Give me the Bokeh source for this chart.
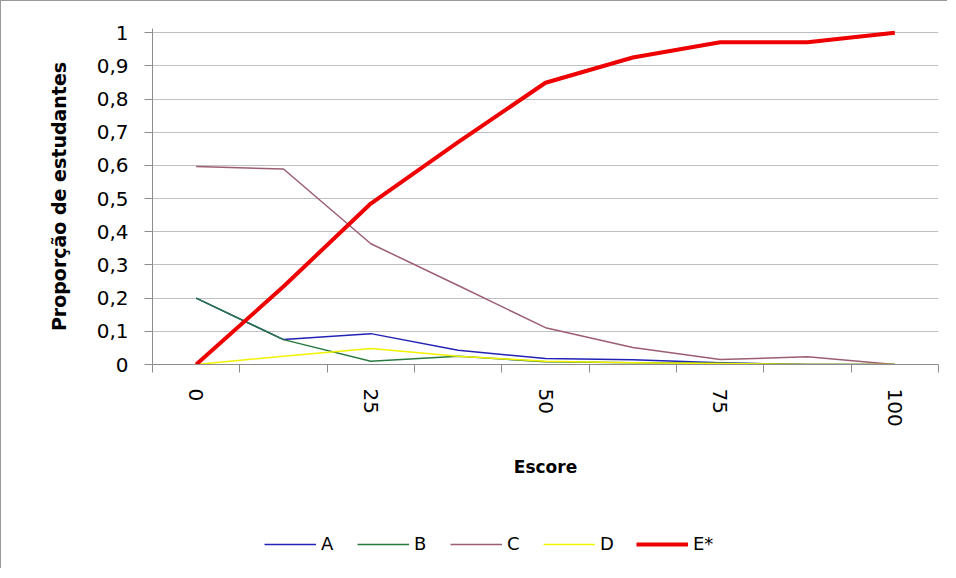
import math
from bokeh.plotting import figure
from bokeh.layouts import column
from bokeh.models import (Range1d, FixedTicker, CustomJSTickFormatter, Legend, LegendItem)
from bokeh.embed import file_html
from bokeh.resources import INLINE

# ---- data ----
escore = [0, 12.5, 25, 37.5, 50, 62.5, 75, 87.5, 100]
serie_a = [0.20, 0.075, 0.093, 0.043, 0.018, 0.014, 0.005, 0.0, 0.0]
serie_b = [0.20, 0.075, 0.010, 0.025, 0.008, 0.005, 0.004, 0.0, 0.0]
serie_c = [0.597, 0.589, 0.364, 0.238, 0.111, 0.051, 0.015, 0.023, 0.0]
serie_d = [0.0, 0.025, 0.048, 0.025, 0.010, 0.005, 0.003, 0.0, 0.0]
serie_e = [0.0, 0.235, 0.485, 0.670, 0.849, 0.925, 0.971, 0.971, 1.0]
x_tick_values = [0, 25, 50, 75, 100]
y_tick_values = [0, 0.1, 0.2, 0.3, 0.4, 0.5, 0.6, 0.7, 0.8, 0.9, 1.0]
series_names = ["A", "B", "C", "D", "E*"]
series_colors = ["#2222b4", "#2a7a40", "#9c5e72", "#f2f200", "#ee0000"]
series_widths = [1.5, 1.5, 1.5, 1.5, 4]
all_series = [serie_a, serie_b, serie_c, serie_d, serie_e]

FONT = "DejaVu Sans"
GRID = "#c0c0c0"
AXIS = "#8c8c8c"
BORDER = "1px solid #9a9a9a"

step = escore[1] - escore[0]
p = figure(width=947, height=513, output_backend="svg", toolbar_location=None,
           x_range=Range1d(escore[0] - step / 2, escore[-1] + step / 2),
           y_range=Range1d(0, 1.0125),
           min_border_left=151, min_border_right=10, min_border_top=27,
           min_border_bottom=150)
p.styles = {"border-left": BORDER, "border-top": BORDER}
p.outline_line_color = None
p.background_fill_color = "white"
p.border_fill_color = "white"

for vals, c, w in zip(all_series, series_colors, series_widths):
    p.line(escore, vals, line_color=c, line_width=w, line_join="round")

# grid
p.xgrid.grid_line_color = None
p.ygrid.grid_line_color = GRID
p.ygrid.grid_line_width = 1.2

# y axis
p.yaxis.ticker = FixedTicker(ticks=y_tick_values)
p.yaxis.formatter = CustomJSTickFormatter(code="""
    var s = tick.toFixed(1).replace('.', ',');
    if (s.endsWith(',0')) { s = s.slice(0, -2); }
    return s;
""")
p.yaxis.axis_line_color = AXIS
p.yaxis.major_tick_line_color = AXIS
p.yaxis.major_tick_out = 8
p.yaxis.major_tick_in = 0
p.yaxis.minor_tick_line_color = None
p.yaxis.major_label_text_font = FONT
p.yaxis.major_label_text_font_size = "20px"
p.yaxis.major_label_text_color = "black"
p.yaxis.major_label_standoff = 16
p.yaxis.axis_label = "Proporção de estudantes"
p.yaxis.axis_label_text_font = FONT
p.yaxis.axis_label_text_font_style = "bold"
p.yaxis.axis_label_text_font_size = "19px"
p.yaxis.axis_label_text_color = "black"
p.yaxis.axis_label_standoff = 24

# x axis
minor = [escore[0] - step / 2 + step * i for i in range(len(escore) + 1)]
p.xaxis.ticker = FixedTicker(ticks=x_tick_values, minor_ticks=minor)
p.xaxis.axis_line_color = AXIS
p.xaxis.major_tick_line_color = None
p.xaxis.major_tick_out = 0
p.xaxis.major_tick_in = 0
p.xaxis.minor_tick_line_color = AXIS
p.xaxis.minor_tick_out = 8
p.xaxis.minor_tick_in = 0
p.xaxis.major_label_orientation = -math.pi / 2
p.xaxis.major_label_text_font = FONT
p.xaxis.major_label_text_font_size = "20px"
p.xaxis.major_label_text_color = "black"
p.xaxis.major_label_standoff = 16
p.xaxis.axis_label = "Escore"
p.xaxis.axis_label_text_font = FONT
p.xaxis.axis_label_text_font_style = "bold"
p.xaxis.axis_label_text_font_size = "17px"
p.xaxis.axis_label_text_color = "black"
p.xaxis.axis_label_standoff = 27

# legend in a strip below the chart (its lines lie outside the strip's visible range)
p2 = figure(width=947, height=55, output_backend="svg", toolbar_location=None,
            x_range=Range1d(escore[0] - step / 2, escore[-1] + step / 2),
            y_range=Range1d(5, 6),
            min_border_left=0, min_border_right=0, min_border_top=0, min_border_bottom=0)
p2.styles = {"border-left": BORDER}
p2.axis.visible = False
p2.grid.grid_line_color = None
p2.outline_line_color = None
p2.border_fill_color = "white"
legend_renderers = []
for vals, c, w in zip(all_series, series_colors, series_widths):
    legend_renderers.append(p2.line(escore, vals, line_color=c, line_width=w))

items = [LegendItem(label=n, renderers=[r]) for n, r in zip(series_names, legend_renderers)]
legend = Legend(items=items, orientation="horizontal", location=(112, 14))
legend.border_line_color = None
legend.background_fill_alpha = 0
legend.label_text_font = FONT
legend.label_text_font_size = "18px"
legend.label_text_color = "black"
legend.glyph_width = 52
legend.label_standoff = 5
legend.spacing = 16
legend.padding = 0
legend.margin = 0
p2.add_layout(legend, "center")

open("out.html", "w").write(file_html(column(p, p2, spacing=0), INLINE))
